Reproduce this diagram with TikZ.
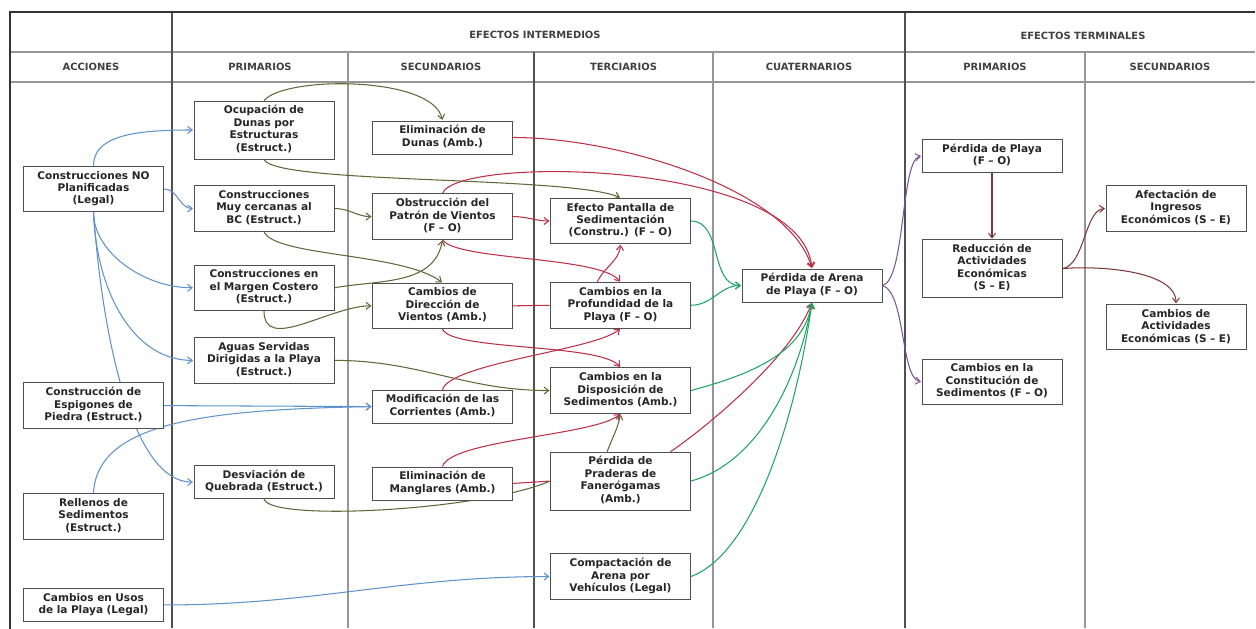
\documentclass[tikz,border=0pt]{standalone}
\usepackage{fontspec}
\setmainfont{DejaVu Sans}
\usepackage{tikz}
\usetikzlibrary{arrows.meta,positioning,backgrounds}

\definecolor{azul}{RGB}{96,146,204}
\definecolor{oliva}{RGB}{96,104,56}
\definecolor{rojo}{RGB}{188,48,72}
\definecolor{verde}{RGB}{32,164,104}
\definecolor{morado}{RGB}{124,84,150}
\definecolor{marron}{RGB}{128,56,56}
\definecolor{lineaosc}{RGB}{80,80,80}
\definecolor{lineaclara}{RGB}{150,150,150}

\begin{document}
\begin{tikzpicture}[>={Straight Barb[length=4pt,width=6pt]},shorten >=0.5pt,x=0.03cm,y=0.03cm,semithick]
  \tikzstyle{box}=[draw=lineaosc,line width=0.7pt,fill=white,text=black!85,text width=4cm,align=center,inner xsep=0.1cm,inner ysep=3.5pt,font=\fontsize{9}{10.6}\selectfont\bfseries,execute at begin node=\strut,execute at end node=\strut]
  \tikzstyle{head}=[text=black!75,font=\fontsize{8.5}{10}\selectfont\bfseries]
  \tikzstyle{marco}=[draw=black!80,line width=1.2pt]
  \tikzstyle{divosc}=[draw=lineaosc,line width=0.9pt]
  \tikzstyle{divclara}=[draw=lineaclara,line width=1pt]
  \tikzstyle{accion}=[draw=azul,line width=0.9pt]
  \tikzstyle{primario}=[draw=oliva,line width=0.9pt]
  \tikzstyle{secundario}=[draw=rojo,line width=0.9pt]
  \tikzstyle{terciario}=[draw=verde,line width=0.9pt]
  \tikzstyle{cuaternario}=[draw=morado,line width=0.9pt]
  \tikzstyle{terminal}=[draw=marron,line width=0.9pt]
  \useasboundingbox (0,0) rectangle (1256,-629);

  \node[head] (h_int) at (535,-35) {EFECTOS INTERMEDIOS};
  \node[head] (h_ter) at (1083,-36) {EFECTOS TERMINALES};
  \node[head] (h_acc) at (91,-67) {ACCIONES};
  \node[head] (h_pri) at (260,-67) {PRIMARIOS};
  \node[head] (h_sec) at (441,-67) {SECUNDARIOS};
  \node[head] (h_terc) at (623.5,-67) {TERCIARIOS};
  \node[head] (h_cua) at (809,-67) {CUATERNARIOS};
  \node[head] (h_tpri) at (995,-67) {PRIMARIOS};
  \node[head] (h_tsec) at (1170,-67) {SECUNDARIOS};

  % acciones
  \node[box] (a_1) at (93.5,-189) {Construcciones NO\\Planificadas\\(Legal)};
  \node[box, below=5.11cm of a_1] (a_2) {Construcción de\\Espigones de\\Piedra (Estruct.)};
  \node[box, below=1.93cm of a_2] (a_3) {Rellenos de\\Sedimentos\\(Estruct.)};
  \node[box, below=1.46cm of a_3] (a_4) {Cambios en Usos\\de la Playa (Legal)};

  % efectos intermedios
  \node[box] (p_1) at (264,-130) {Ocupación de\\Dunas por\\Estructuras\\(Estruct.)};
  \node[box, below=0.78cm of p_1] (p_2) {Construcciones\\Muy cercanas al\\BC (Estruct.)};
  \node[box, below=0.99cm of p_2] (p_3) {Construcciones en\\el Margen Costero\\(Estruct.)};
  \node[box, below=0.79cm of p_3] (p_4) {Aguas Servidas\\Dirigidas a la Playa\\(Estruct.)};
  \node[box, below=2.45cm of p_4] (p_5) {Desviación de\\Quebrada (Estruct.)};

  \node[box] (s_1) at (442.5,-137.5) {Eliminación de\\Dunas (Amb.)};
  \node[box, below=1.17cm of s_1] (s_2) {Obstrucción del\\Patrón de Vientos\\(F – O)};
  \node[box, below=1.29cm of s_2] (s_3) {Cambios de\\Dirección de\\Vientos (Amb.)};
  \node[box, below=1.82cm of s_3] (s_4) {Modificación de las\\Corrientes (Amb.)};
  \node[box, below=1.29cm of s_4] (s_5) {Eliminación de\\Manglares (Amb.)};

  \node[box] (t_1) at (620.5,-221) {Efecto Pantalla de\\Sedimentación\\(Constru.) (F – O)};
  \node[box, below=1.14cm of t_1] (t_2) {Cambios en la\\Profundidad de la\\Playa (F – O)};
  \node[box, below=1.17cm of t_2] (t_3) {Cambios en la\\Disposición de\\Sedimentos (Amb.)};
  \node[box, below=1.14cm of t_3] (t_4) {Pérdida de\\Praderas de\\Fanerógamas\\(Amb.)};
  \node[box, below=1.29cm of t_4] (t_5) {Compactación de\\Arena por\\Vehículos (Legal)};

  \node[box] (q_1) at (812,-285.5) {Pérdida de Arena\\de Playa (F – O)};

  % efectos terminales
  \node[box] (e_1) at (992,-156) {Pérdida de Playa\\(F – O)};
  \node[box, below=1.99cm of e_1] (e_2) {Reducción de\\Actividades\\Económicas\\(S – E)};
  \node[box, below=1.82cm of e_2] (e_3) {Cambios en la\\Constitución de\\Sedimentos (F – O)};

  \node[box] (f_1) at (1176,-208.5) {Afectación de\\Ingresos\\Económicos (S – E)};
  \node[box, below=2.17cm of f_1] (f_2) {Cambios de\\Actividades\\Económicas (S – E)};

  \begin{pgfonlayer}{background}
    \draw[divclara] (10,-52) -- (1256,-52);
    \draw[divclara] (10,-82) -- (1256,-82);
    \foreach \x in {172,905}
      \draw[divosc] (\x,-12) -- (\x,-629);
    \draw[divosc] (534,-52) -- (534,-629);
    \foreach \x in {348,713,1085}
      \draw[divclara] (\x,-52) -- (\x,-629);
    \draw[marco] (10,-629) -- (10,-12) -- (1256,-12);

    \path[->]
    (a_1.north) edge[accion, out=90, in=180, out distance=0.9cm, in distance=1.8cm] (p_1.west)
    (a_1.east) edge[accion, out=0, in=180] (p_2.west)
    (a_1.south) edge[accion, out=-90, in=180, out distance=1.2cm, in distance=1.5cm] (p_3.west)
    (a_1.south) edge[accion, out=-88, in=180, out distance=2.4cm, in distance=1.8cm] (p_4.west)
    (a_1.south) edge[accion, out=-86, in=180, out distance=3.9cm, in distance=1.8cm] (p_5.west)
    (a_2.east) edge[accion] (s_4.west)
    (a_3.north) edge[accion, out=87, in=181, out distance=2.1cm, in distance=5.1cm] (s_4.west)
    (a_4.east) edge[accion, out=0, in=180, out distance=4.5cm, in distance=4.5cm] (t_5.west);

    \path[->]
    (p_1.north) edge[primario, out=51, in=102, out distance=0.96cm, in distance=1.38cm] (s_1.north)
    (p_1.south) edge[primario, out=-68, in=156, out distance=0.81cm, in distance=1.64cm] (t_1.north)
    (p_2.east) edge[primario, out=0, in=180] (s_2.west)
    (p_2.south) edge[primario, out=-68, in=143, out distance=0.81cm, in distance=1.5cm] (s_3.north)
    (p_3.east) edge[primario, out=10, in=-100] (s_2.south)
    (p_3.south) edge[primario, out=-90, in=180] (s_3.west)
    (p_4.east) edge[primario, out=0, in=180] (t_3.west)
    (p_5.south) edge[primario, -, out=-75, in=203, out distance=0.71cm, in distance=2.28cm] (t_4.west)
    ([xshift=-0.4cm]t_4.north) edge[primario, out=70, in=-100] (t_3.south);

    \path[->]
    (s_1.east) edge[secundario, out=0, in=106, out distance=3.2cm, in distance=2.46cm] (q_1.north)
    (s_2.north) edge[secundario, out=71, in=96, out distance=1.2cm, in distance=3.3cm] (q_1.north)
    (s_2.east) edge[secundario, out=0, in=180] (t_1.west)
    (s_2.south) edge[secundario, out=-58, in=128, out distance=0.74cm, in distance=1cm] (t_2.north)
    ([xshift=-0.7cm]t_2.north) edge[secundario, out=65, in=-95] (t_1.south)
    (s_3.east) edge[secundario, -] (t_2.west)
    (s_3.south) edge[secundario, out=-70, in=130, out distance=0.7cm, in distance=0.95cm] (t_3.north)
    (s_4.north) edge[secundario, out=73, in=221, out distance=0.84cm, in distance=1cm] (t_2.south)
    (s_5.north) edge[secundario, out=73, in=221, out distance=0.84cm, in distance=1cm] (t_3.south)
    (s_5.east) edge[secundario, -] (t_4.west)
    ([xshift=1.5cm]t_4.north) edge[secundario, out=34, in=249, out distance=1.08cm, in distance=1.86cm] (q_1.south);

    \path[->]
    (t_1.east) edge[terciario, out=0, in=180] (q_1.west)
    (t_2.east) edge[terciario, out=0, in=180] (q_1.west)
    (t_3.east) edge[terciario, out=15, in=-100, out distance=2cm, in distance=1.5cm] (q_1.south)
    (t_4.east) edge[terciario, out=15, in=-100, out distance=2cm, in distance=2.5cm] (q_1.south)
    (t_5.east) edge[terciario, out=20, in=-98, out distance=2cm, in distance=3.5cm] (q_1.south);

    \path[->]
    (q_1.east) edge[cuaternario, out=13, in=191, out distance=0.71cm, in distance=0.64cm] (e_1.west)
    (q_1.east) edge[cuaternario, out=-16, in=170, out distance=0.72cm, in distance=0.64cm] (e_3.west)
    (e_1.south) edge[terminal] (e_2.north)
    (e_2.east) edge[terminal, out=8, in=184, out distance=0.67cm, in distance=0.63cm] (f_1.west)
    (e_2.east) edge[terminal, out=5, in=90, out distance=1.1cm, in distance=1cm] (f_2.north);
  \end{pgfonlayer}
\end{tikzpicture}
\end{document}
